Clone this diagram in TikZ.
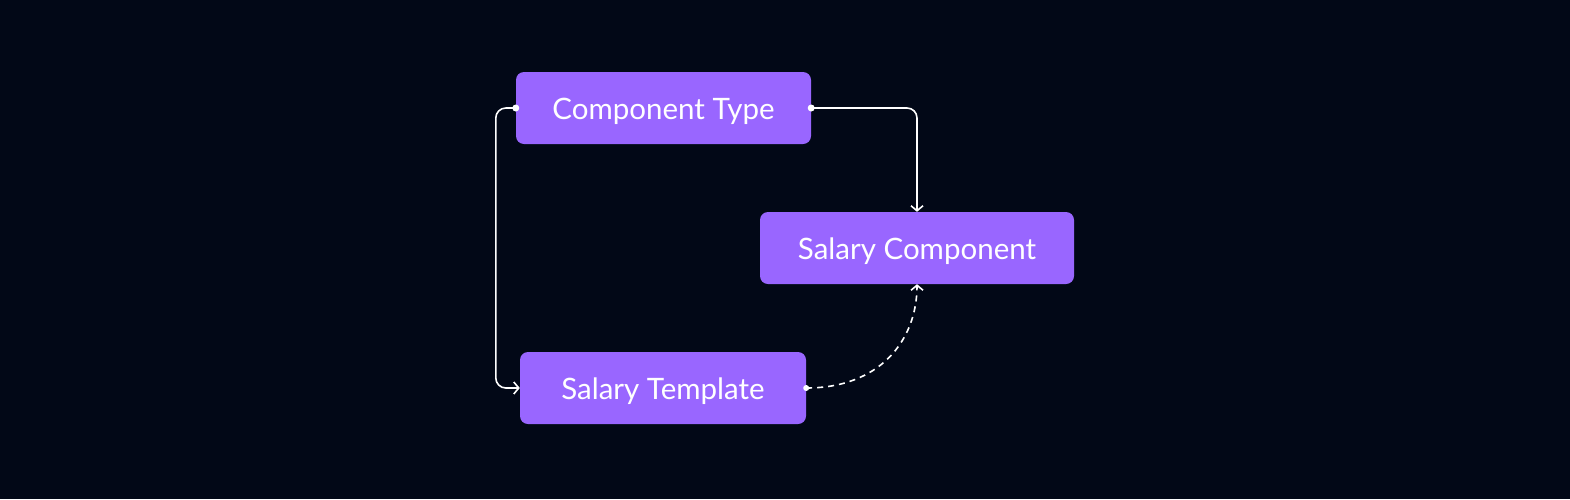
\documentclass[tikz,border=0pt]{standalone}
\usepackage{fontspec}
\setmainfont{Lato}
\usetikzlibrary{arrows.meta}
\definecolor{bgc}{HTML}{020817}
\definecolor{boxc}{HTML}{9966FF}
\begin{document}
\begin{tikzpicture}[x=1pt,y=-1pt,
  box/.style={fill=boxc,rounded corners=8pt,inner sep=0pt,minimum height=72pt},
  lbl/.style={anchor=base,inner sep=0pt,text=white,font=\fontsize{29.5}{32}\selectfont},
  conn/.style={draw=white,line width=1.6pt,rounded corners=10pt,-{Straight Barb[length=5pt,width=12pt,line width=1.6pt]}},
  dotc/.style={circle,fill=white,inner sep=0pt,minimum size=7pt}]
\fill[bgc] (0,0) rectangle (1570,499);
\useasboundingbox (0,0) rectangle (1570,499);
\node[box,minimum width=295pt] (ct) at (663.5,108) {};
\node[box,minimum width=314pt] (sc) at (917,248) {};
\node[box,minimum width=286pt] (st) at (663,388) {};
\node[lbl] (tct) at (663.5,119.5) {Component Type};
\node[lbl] (tsc) at (917,259.5) {Salary Component};
\node[lbl] (tst) at (663,399.5) {Salary Template};
\node[dotc] (d1) at (ct.west) {};
\node[dotc] (d2) at (ct.east) {};
\node[dotc,minimum size=6pt] (d3) at (st.east) {};
\draw[conn] (ct.west) -- ++(-20,0) |- (st.west);
\draw[conn] (ct.east) -| (sc.north);
\draw[conn,dashed,dash pattern=on 6pt off 5pt,rounded corners=0pt] (st.east) .. controls (880,388) and (917,340) .. (sc.south);
\end{tikzpicture}
\end{document}
